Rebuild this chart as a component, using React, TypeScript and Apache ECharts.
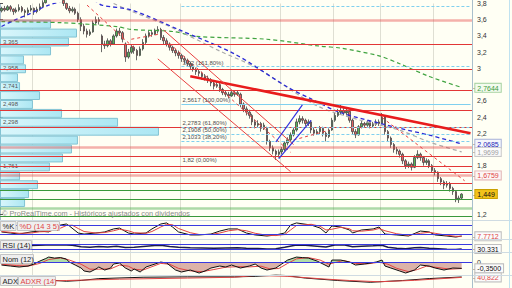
import React, { useEffect, useRef } from 'react';
import * as echarts from 'echarts';

const FONT = '"Liberation Sans", Arial, Helvetica, sans-serif';

const N = 160;
const categories: string[] = Array.from({ length: N }, (_, i) => 'D' + (i + 1));

// Daily candles [open, close, low, high]
const candles: number[][] = [
  [3.71,3.74,3.69,3.76],[3.74,3.72,3.70,3.77],[3.72,3.76,3.71,3.78],[3.76,3.73,3.70,3.78],[3.73,3.70,3.66,3.74],
  [3.70,3.72,3.68,3.75],[3.72,3.75,3.70,3.79],[3.75,3.71,3.69,3.77],[3.71,3.69,3.63,3.73],[3.69,3.72,3.67,3.75],
  [3.72,3.74,3.70,3.78],[3.74,3.70,3.66,3.75],[3.70,3.73,3.68,3.76],[3.73,3.76,3.71,3.80],[3.76,3.81,3.75,3.84],
  [3.81,3.86,3.80,3.89],[3.86,3.88,3.83,3.91],[3.88,3.85,3.82,3.90],[3.85,3.90,3.84,3.93],[3.90,3.87,3.84,3.92],
  [3.87,3.84,3.81,3.89],[3.84,3.80,3.77,3.86],[3.80,3.74,3.72,3.81],[3.74,3.71,3.68,3.77],[3.71,3.73,3.69,3.76],
  [3.73,3.68,3.66,3.75],[3.68,3.60,3.57,3.70],[3.60,3.52,3.46,3.63],[3.52,3.46,3.42,3.55],[3.46,3.42,3.38,3.49],
  [3.42,3.45,3.40,3.48],[3.45,3.56,3.44,3.59],[3.56,3.60,3.54,3.64],[3.60,3.58,3.54,3.63],[3.40,3.30,3.20,3.42],
  [3.30,3.28,3.24,3.34],[3.28,3.34,3.26,3.37],[3.34,3.30,3.27,3.36],[3.30,3.40,3.29,3.42],[3.40,3.46,3.38,3.49],
  [3.46,3.44,3.40,3.50],[3.44,3.36,3.32,3.46],[3.30,3.14,3.08,3.32],[3.14,3.20,3.12,3.24],[3.20,3.26,3.18,3.29],
  [3.26,3.22,3.18,3.28],[3.22,3.16,3.10,3.24],[3.16,3.24,3.15,3.27],[3.24,3.32,3.22,3.36],[3.32,3.40,3.30,3.43],
  [3.40,3.44,3.38,3.47],[3.44,3.42,3.39,3.46],[3.42,3.46,3.41,3.49],[3.46,3.48,3.43,3.52],[3.48,3.38,3.35,3.50],
  [3.38,3.34,3.30,3.41],[3.34,3.30,3.27,3.37],[3.30,3.26,3.22,3.32],[3.26,3.22,3.19,3.28],[3.22,3.19,3.15,3.24],
  [3.19,3.16,3.12,3.22],[3.16,3.12,3.08,3.18],[3.12,3.10,3.06,3.15],[3.10,3.06,3.02,3.12],[3.06,3.02,2.98,3.08],
  [3.02,2.99,2.96,3.05],[2.99,2.96,2.92,3.01],[2.96,2.94,2.90,2.99],[2.94,2.90,2.86,2.96],[2.90,2.88,2.85,2.93],
  [2.88,2.86,2.82,2.91],[2.86,2.82,2.78,2.88],[2.82,2.78,2.74,2.84],[2.78,2.80,2.76,2.84],[2.80,2.74,2.71,2.82],
  [2.74,2.70,2.67,2.76],[2.70,2.68,2.65,2.73],[2.68,2.66,2.63,2.71],[2.66,2.70,2.65,2.73],[2.70,2.68,2.65,2.72],
  [2.68,2.70,2.66,2.73],[2.68,2.56,2.52,2.70],[2.56,2.50,2.46,2.58],[2.50,2.46,2.42,2.53],[2.46,2.42,2.38,2.49],
  [2.42,2.34,2.30,2.44],[2.34,2.30,2.26,2.37],[2.30,2.32,2.27,2.36],[2.32,2.26,2.22,2.34],[2.26,2.30,2.24,2.33],
  [2.26,2.10,2.06,2.28],[2.10,2.02,1.98,2.12],[2.02,1.98,1.94,2.05],[1.98,1.94,1.87,2.00],[1.94,1.97,1.90,2.00],
  [1.97,2.00,1.94,2.03],[2.00,2.08,1.98,2.10],[2.08,2.12,2.05,2.15],[2.12,2.18,2.10,2.21],[2.18,2.24,2.16,2.27],
  [2.24,2.34,2.22,2.38],[2.34,2.38,2.31,2.42],[2.38,2.36,2.32,2.41],[2.36,2.32,2.29,2.38],[2.32,2.34,2.29,2.37],
  [2.34,2.24,2.20,2.36],[2.24,2.20,2.17,2.27],[2.20,2.22,2.18,2.25],[2.22,2.26,2.19,2.29],[2.26,2.20,2.16,2.28],
  [2.20,2.16,2.10,2.22],[2.16,2.24,2.14,2.26],[2.24,2.36,2.23,2.39],[2.36,2.42,2.34,2.45],[2.42,2.46,2.40,2.50],
  [2.46,2.48,2.43,2.56],[2.48,2.45,2.42,2.51],[2.45,2.47,2.42,2.52],[2.47,2.36,2.33,2.48],[2.36,2.22,2.18,2.38],
  [2.22,2.18,2.14,2.25],[2.18,2.28,2.17,2.30],[2.28,2.32,2.26,2.35],[2.32,2.30,2.27,2.34],[2.30,2.33,2.28,2.36],
  [2.33,2.29,2.26,2.35],[2.29,2.31,2.27,2.34],[2.31,2.34,2.29,2.37],[2.34,2.32,2.29,2.37],[2.32,2.40,2.31,2.45],
  [2.40,2.22,2.18,2.42],[2.22,2.14,2.10,2.24],[2.14,2.06,2.02,2.16],[2.06,2.00,1.96,2.08],[2.00,1.98,1.94,2.03],
  [1.98,1.94,1.90,2.00],[1.94,1.86,1.82,1.96],[1.86,1.80,1.76,1.88],[1.80,1.82,1.77,1.85],[1.82,1.78,1.74,1.84],
  [1.78,1.90,1.77,1.93],[1.90,1.94,1.88,1.99],[1.94,1.90,1.86,1.96],[1.90,1.84,1.80,1.92],[1.84,1.86,1.81,1.89],
  [1.86,1.80,1.77,1.88],[1.80,1.74,1.71,1.82],[1.74,1.72,1.68,1.77],[1.72,1.64,1.60,1.73],[1.64,1.60,1.56,1.66],
  [1.60,1.56,1.51,1.62],[1.56,1.58,1.53,1.61],[1.58,1.52,1.48,1.60],[1.52,1.48,1.44,1.54],[1.48,1.38,1.35,1.50],
  [1.38,1.40,1.34,1.43],[1.40,1.449,1.38,1.46],
];

// Moving averages [candle index, price]
const maBlue = [[0,3.516],[4,3.588],[10,3.68],[16,3.78],[24,3.85],[30,3.86],[34,3.78],[44,3.721],[60,3.479],[79,3.178],[97,2.768],[105,2.623],[115,2.454],[135,2.261],[145,2.177],[156,2.0685]];
const maGrey = [[38,3.80],[43,3.72],[57,3.516],[74,3.214],[87,2.997],[107,2.538],[122,2.357],[135,2.237],[145,2.092],[156,1.9699]];
const maGreen = [[0,3.576],[20,3.564],[39,3.516],[44,3.48],[58,3.455],[66,3.395],[90,3.359],[108,3.274],[115,3.25],[128,3.154],[135,3.057],[145,2.90],[156,2.7644]];

// Price axis tick labels
const priceTicks = [3.8, 3.6, 3.4, 3.2, 3.0, 2.6, 2.4, 2.2, 1.8, 1.2];

// Horizontal levels
const levelsRed = [3.298, 2.993, 2.725, 2.478, 2.279, 1.915, 1.787, 1.724, 1.58];
const levelsRedLight = [3.592, 2.026, 1.6759];
const levelsGreen = [1.501, 1.377, 1.175];
const levelsGreenLight = [1.268];

// Fibonacci levels
const fibLevels = [3.76, 3.02, 2.5617, 2.2783, 2.1908, 2.1033, 1.82];
const fibLabels = ['', '3,02 (161,80%)', '2,5617 (100,00%)', '2,2783 (61,80%)', '2,1908 (50,00%)', '2,1033 (38,20%)', '1,82 (0,00%)'];
const fibStart = 61;

// Drawn trendlines [[index, price], [index, price]]
const trendThick = [[64, 2.904], [159, 2.2007]];
const channelSolid = [[[55, 3.472], [99, 2.061]], [[53, 3.117], [98, 1.726]]];
const channelDashed = [[[57, 3.306], [98, 1.965]], [[29, 3.78], [45, 3.25]], [[129, 2.394], [157, 1.614]], [[99, 2.116], [111, 2.237]], [[44, 3.359], [53, 3.419]]];
const blueChannel = [[[93, 2.092], [102, 2.55]], [[94, 1.887], [105, 2.358]]];

// Volume-by-price profile
const profileEdges = [3.60,3.49,3.38,3.27,3.16,3.05,2.94,2.83,2.72,2.61,2.50,2.39,2.28,2.17,2.06,1.95,1.84,1.73,1.62,1.51,1.40,1.29];
const profileVolume = [31.8,48.3,43.2,31.8,14.6,15.9,10.8,12.1,24.8,20.3,38.8,74.4,100.4,48.9,45.1,39.4,31.1,12.1,23.5,17.8,15.3];
const profileLabels = ['', '', '3,365', '', '', '2,958', '', '2,741', '', '2,498', '', '2,298', '', '', '', '', '1,761', '', '', '', ''];

// Last-value tags
const tagTexts = { green: '2,7644', blue: '2,0685', grey: '1,9699', level: '1,6759', last: '1,449', d: '7,7712', rsi: '30,331', mom: '-0,3500', adxr: '40,822' };
const tagValues = { green: 2.7644, blue: 2.0685, grey: 1.9699, level: 1.6759, last: 1.449, d: 7.7712, rsi: 30.331, mom: -0.35, adxr: 40.822 };

// Stochastic
const kLine = [[0,37],[3,30],[6,23],[10,37],[13,43],[16,37],[20,83],[22,90],[23,77],[26,30],[28,23],[32,30],[35,37],[38,57],[40,63],[43,30],[45,23],[49,30],[51,57],[54,90],[56,97],[58,70],[60,37],[64,17],[67,17],[71,23],[74,43],[77,57],[80,57],[83,30],[86,17],[90,10],[93,17],[96,30],[98,83],[100,97],[105,83],[108,63],[110,30],[112,77],[115,70],[118,50],[119,30],[122,50],[126,57],[128,70],[130,23],[134,17],[138,10],[142,43],[145,37],[147,17],[151,10],[154,3],[156,10]];
const dLine = [[0,40],[3,35],[6,28],[10,30],[13,38],[16,40],[20,62],[22,80],[24,82],[26,60],[28,40],[32,30],[35,33],[38,45],[40,55],[43,45],[45,32],[49,28],[51,40],[54,70],[56,88],[58,85],[60,60],[64,32],[67,20],[71,20],[74,30],[77,45],[80,52],[83,45],[86,28],[90,15],[93,13],[96,20],[98,50],[100,80],[105,88],[108,75],[110,50],[112,55],[115,68],[118,58],[119,45],[122,42],[126,50],[128,60],[130,45],[134,25],[138,15],[142,28],[145,35],[147,28],[151,15],[154,8],[156,7.7712]];
// RSI
const rsiLine = [[0,55],[5,52],[10,58],[15,62],[20,64],[24,60],[27,48],[30,44],[33,50],[36,46],[39,52],[42,42],[45,44],[48,50],[52,58],[54,60],[57,50],[60,44],[64,40],[68,38],[72,36],[76,38],[80,40],[83,36],[87,34],[90,30],[93,32],[96,44],[100,62],[103,60],[107,52],[110,46],[113,62],[116,64],[119,48],[122,52],[126,56],[129,60],[131,44],[134,36],[137,32],[140,40],[142,42],[145,36],[148,32],[151,28],[154,27],[156,30.331]];
// Momentum
const momLine = [[0,-0.15],[3,-0.21],[6,-0.27],[9,-0.21],[11,-0.09],[13,0.09],[15,0.24],[16,0.33],[18,0.27],[20,0.30],[22,0.21],[23,0.03],[25,-0.15],[27,-0.33],[28,-0.51],[30,-0.57],[32,-0.39],[33,-0.27],[35,-0.45],[37,-0.33],[38,-0.09],[40,-0.03],[42,-0.33],[44,-0.51],[45,-0.39],[47,-0.57],[49,-0.27],[51,-0.15],[54,0.03],[56,-0.03],[59,-0.45],[61,-0.57],[64,-0.45],[67,-0.63],[69,-0.51],[71,-0.33],[74,-0.21],[76,-0.27],[78,-0.15],[81,-0.33],[84,-0.21],[86,-0.09],[88,-0.33],[90,-0.45],[93,-0.33],[95,-0.09],[97,0.15],[100,0.33],[102,0.30],[104,0.27],[107,0.09],[109,-0.09],[111,-0.27],[112,0.15],[115,0.15],[118,0.03],[120,-0.15],[123,-0.09],[127,0.03],[129,0.15],[130,-0.21],[132,-0.33],[135,-0.51],[137,-0.63],[140,-0.45],[142,-0.15],[145,-0.21],[147,-0.33],[150,-0.45],[153,-0.33],[156,-0.35]];
const momSignal = [[0,-0.10],[5,-0.18],[9,-0.22],[13,-0.05],[16,0.18],[20,0.28],[23,0.15],[27,-0.10],[30,-0.40],[33,-0.40],[37,-0.38],[40,-0.15],[43,-0.22],[45,-0.40],[48,-0.45],[51,-0.25],[54,-0.05],[57,-0.10],[60,-0.35],[64,-0.50],[68,-0.55],[72,-0.42],[76,-0.28],[80,-0.25],[84,-0.26],[88,-0.22],[91,-0.38],[94,-0.36],[97,-0.05],[100,0.22],[104,0.30],[108,0.15],[111,-0.10],[113,0.00],[116,0.12],[120,-0.05],[124,-0.08],[128,0.02],[131,-0.10],[134,-0.35],[138,-0.55],[141,-0.42],[144,-0.22],[148,-0.30],[152,-0.40],[156,-0.36]];
// ADX / ADXR
const adxLine = [[0,24],[10,31],[17,30],[22,26],[27,29],[33,36],[48,41.4],[63,42.8],[79,42.8],[86,44.8],[93,49.4],[96,48.2],[103,38.2],[114,28.8],[125,22],[136,28.8],[145,36.2],[156,42.4]];
const adxrLine = [[0,22],[22,28.8],[40,34],[63,38.2],[79,41.4],[86,48.2],[97,44.8],[109,34.8],[118,28.8],[128,24],[140,29.4],[156,40.822]];

// vertical grid positions (candle index)
const vGrid = [11, 27, 44, 61, 78, 95, 113, 129, 147];

const pts = (arr: number[][]) => arr.map(([i, v]) => [categories[i], v]);
const fmtComma = (v: number) => String(Math.round(v * 10) / 10).replace('.', ',');

const RED = '#e23636';
const CLEAR = 'rgba(0,0,0,0)';

const tagLabel = (text: string, color: string, bg: string, border: string) => ({
  show: true,
  position: 'end',
  distance: 1,
  opacity: 1,
  formatter: '{t|-}{b|' + text + '}',
  rich: {
    t: { color: '#555', fontSize: 7, fontFamily: FONT },
    b: { color, fontSize: 7, fontFamily: FONT, backgroundColor: bg, borderColor: border, borderWidth: 1, padding: [1, 2, 0, 2] },
  },
});
const tagItem = (v: number, text: string, color: string, bg: string, border: string) => ({
  yAxis: v,
  lineStyle: { color: CLEAR, width: 0.01, type: 'solid' },
  label: tagLabel(text, color, bg, border),
});
const seg = (p: number[][], lineStyle: any) => [
  { coord: [categories[p[0][0]], p[0][1]], lineStyle },
  { coord: [categories[p[1][0]], p[1][1]] },
];

export default function App() {
  const ref = useRef<HTMLDivElement>(null);

  useEffect(() => {
    if (!ref.current) return;
    const chart = echarts.init(ref.current, null, { renderer: 'svg' });

    const catAxis = (gridIndex: number) => ({
      type: 'category',
      gridIndex,
      data: categories,
      boundaryGap: true,
      axisLine: { show: false },
      axisTick: { show: false },
      axisLabel: { show: false },
      splitLine: { show: true, interval: (idx: number) => vGrid.includes(idx), lineStyle: { color: '#dfdfd3', width: 1 } },
    });
    const panelY = (gridIndex: number, min: number, max: number) => ({
      type: 'value',
      gridIndex,
      position: 'right',
      min,
      max,
      axisLine: { show: true, lineStyle: { color: '#a9bfcc' } },
      axisTick: { show: false },
      axisLabel: { show: false },
      splitLine: { show: false },
    });

    const mainLines: any[] = [
      ...levelsRedLight.map((v) => ({ yAxis: v, lineStyle: { color: 'rgba(228,70,70,0.42)', width: 2.5, type: 'solid' } })),
      ...levelsGreenLight.map((v) => ({ yAxis: v, lineStyle: { color: 'rgba(70,170,70,0.45)', width: 2.5, type: 'solid' } })),
      ...levelsRed.map((v) => ({ yAxis: v, lineStyle: { color: RED, width: 1, type: 'solid' } })),
      ...levelsGreen.map((v) => ({ yAxis: v, lineStyle: { color: '#3a983a', width: 1, type: 'solid' } })),
      ...fibLevels.map((v, k) => [
        {
          coord: [categories[fibStart], v],
          lineStyle: { color: k === 6 ? CLEAR : '#7fd0ef', width: 1.2, type: k === 2 || k === 6 ? 'solid' : [3, 2] },
          label: fibLabels[k]
            ? { show: true, position: 'insideStartTop', distance: 1, formatter: fibLabels[k], color: '#505050', fontSize: 6, fontFamily: FONT }
            : { show: false },
        },
        { coord: [categories[N - 1], v] },
      ]),
      seg(trendThick, { color: '#e81c1c', width: 2.5, type: 'solid' }),
      ...channelSolid.map((p) => seg(p, { color: '#e84040', width: 1, type: 'solid' })),
      ...channelDashed.map((p) => seg(p, { color: '#e84040', width: 1, type: [3, 3] })),
      ...blueChannel.map((p) => seg(p, { color: '#3030e0', width: 1.2, type: 'solid' })),
      tagItem(tagValues.green, tagTexts.green, '#3a9a3a', '#f3fbef', '#a6d2a0'),
      tagItem(tagValues.blue, tagTexts.blue, '#2626b8', '#f5f6fc', '#aab4d8'),
      tagItem(tagValues.grey, tagTexts.grey, '#a0a0a0', '#fbfbfb', '#c8c8c8'),
      tagItem(tagValues.level, tagTexts.level, '#e04444', '#fdf6f5', '#e2b4b4'),
      tagItem(tagValues.last, tagTexts.last, '#111111', '#f3c21a', '#c9a000'),
    ];

    const option: any = {
      animation: false,
      backgroundColor: '#fffff4',
      textStyle: { fontFamily: FONT },
      grid: [
        { left: 0, right: 40, top: -1.58, height: 232.12 },
        { left: 0, right: 40, top: 222.5, height: 15 },
        { left: 0, right: 40, top: 240.25, height: 12.5 },
        { left: 0, right: 40, top: 253, height: 22 },
        { left: 0, right: 40, top: 272.4, height: 30 },
      ],
      xAxis: [
        catAxis(0),
        { type: 'value', gridIndex: 0, min: 0, max: 300, show: false },
        catAxis(1),
        catAxis(2),
        catAxis(3),
        catAxis(4),
      ],
      yAxis: [
        {
          type: 'value',
          gridIndex: 0,
          position: 'right',
          min: 1.0,
          max: 3.8,
          interval: 0.2,
          axisLine: { show: true, lineStyle: { color: '#a9bfcc' } },
          axisTick: { show: true, length: 3, lineStyle: { color: '#555' } },
          axisLabel: {
            margin: 5,
            color: '#333',
            fontSize: 7,
            fontFamily: FONT,
            formatter: (v: number) => (priceTicks.some((t) => Math.abs(t - v) < 1e-6) ? fmtComma(v) : ''),
          },
          splitLine: { show: false },
        },
        panelY(1, 0, 100),
        panelY(2, 0, 100),
        {
          ...panelY(3, -0.75, 0.575),
          interval: 0.25,
          axisLabel: { show: true, margin: 5, color: '#333', fontSize: 7, fontFamily: FONT, formatter: (v: number) => (Math.abs(v) < 1e-9 ? '0' : '') },
        },
        panelY(4, 0, 60),
      ],
      visualMap: [
        {
          type: 'piecewise',
          show: false,
          seriesIndex: 8,
          dimension: 1,
          pieces: [
            { gte: -5, lt: 0, color: '#d8aaa0' },
            { gte: 0, lte: 5, color: '#a8d9a0' },
          ],
        },
      ],
      series: [
        {
          type: 'custom',
          xAxisIndex: 1,
          yAxisIndex: 0,
          z: 1,
          silent: true,
          encode: { x: 0, y: [1, 2] },
          data: profileVolume.map((v, k) => [v, profileEdges[k + 1], profileEdges[k]]),
          renderItem: (params: any, api: any) => {
            const v = api.value(0);
            const lo = api.value(1);
            const hi = api.value(2);
            const a = api.coord([0, hi]);
            const b = api.coord([v, lo]);
            const children: any[] = [
              {
                type: 'rect',
                shape: { x: a[0] + 0.5, y: a[1] + 0.5, width: b[0] - a[0], height: b[1] - a[1] - 1 },
                style: {
                  fill: new echarts.graphic.LinearGradient(0, 0, 1, 0, [
                    { offset: 0, color: '#d9f6fb' },
                    { offset: 1, color: '#ace7f3' },
                  ]),
                  stroke: '#82c3d3',
                  lineWidth: 1,
                },
              },
            ];
            const label = profileLabels[params.dataIndex];
            if (label) {
              children.push({
                type: 'text',
                x: a[0] + 3,
                y: a[1] + 4,
                style: { text: label, fill: '#555', font: '6px ' + FONT, verticalAlign: 'middle' },
              });
            }
            return { type: 'group', children };
          },
        },
        {
          type: 'candlestick',
          xAxisIndex: 0,
          yAxisIndex: 0,
          z: 3,
          barWidth: '68%',
          data: candles,
          itemStyle: { color: '#56b656', color0: '#e26262', borderColor: '#444', borderColor0: '#444', borderWidth: 0.8 },
          markLine: {
            silent: true,
            animation: false,
            symbol: ['none', 'none'],
            label: { show: false },
            emphasis: { disabled: true },
            data: mainLines,
          },
        },
        { type: 'line', xAxisIndex: 0, yAxisIndex: 0, z: 4, data: pts(maGreen), symbol: 'none', smooth: 0.3, silent: true, lineStyle: { color: '#3fa33f', width: 1.2, type: [4, 3] } },
        { type: 'line', xAxisIndex: 0, yAxisIndex: 0, z: 4, data: pts(maGrey), symbol: 'none', smooth: 0.3, silent: true, lineStyle: { color: '#aaaaaa', width: 1.2, type: [4, 3] } },
        { type: 'line', xAxisIndex: 0, yAxisIndex: 0, z: 4, data: pts(maBlue), symbol: 'none', smooth: 0.3, silent: true, lineStyle: { color: '#2b2bd6', width: 1.3, type: [4, 3] } },
        // %K
        {
          type: 'line', xAxisIndex: 2, yAxisIndex: 1, data: pts(kLine), symbol: 'none', silent: true,
          lineStyle: { color: '#111', width: 1 },
          markLine: {
            silent: true, symbol: ['none', 'none'], label: { show: false },
            data: [{ yAxis: 80 }, { yAxis: 20 }],
            lineStyle: { color: '#3a3ae0', width: 1, type: 'solid' },
          },
        },
        {
          type: 'line', xAxisIndex: 2, yAxisIndex: 1, data: pts(dLine), symbol: 'none', silent: true,
          lineStyle: { color: '#e04444', width: 1 },
          markLine: { silent: true, symbol: ['none', 'none'], label: { show: false }, data: [tagItem(tagValues.d, tagTexts.d, '#e04444', '#fbfbfb', '#bdbdbd')] },
        },
        // RSI
        {
          type: 'line', xAxisIndex: 3, yAxisIndex: 2, data: pts(rsiLine), symbol: 'none', silent: true, z: 3,
          lineStyle: { color: '#1b1b4a', width: 1.4 },
          markLine: {
            silent: true, symbol: ['none', 'none'], label: { show: false },
            lineStyle: { color: '#3a3ae0', width: 1, type: 'solid' },
            data: [{ yAxis: 70 }, { yAxis: 30 }, tagItem(tagValues.rsi, tagTexts.rsi, '#111', '#fbfbfb', '#bdbdbd')],
          },
        },
        // Momentum area
        {
          type: 'line', xAxisIndex: 4, yAxisIndex: 3, data: pts(momLine), symbol: 'none', silent: true,
          lineStyle: { width: 0 },
          areaStyle: { opacity: 0.9 },
        },
        {
          type: 'line', xAxisIndex: 4, yAxisIndex: 3, data: pts(momSignal), symbol: 'none', silent: true,
          lineStyle: { color: '#e04444', width: 1 },
        },
        {
          type: 'line', xAxisIndex: 4, yAxisIndex: 3, data: pts(momLine), symbol: 'none', silent: true, z: 3,
          lineStyle: { color: '#111', width: 1 },
          markLine: {
            silent: true, symbol: ['none', 'none'], label: { show: false },
            lineStyle: { color: '#3a3ae0', width: 1, type: 'solid' },
            data: [{ yAxis: 0 }, tagItem(tagValues.mom, tagTexts.mom, '#111', '#fbfbfb', '#bdbdbd')],
          },
        },
        // ADX
        {
          type: 'line', xAxisIndex: 5, yAxisIndex: 4, data: pts(adxLine), symbol: 'none', silent: true,
          lineStyle: { color: '#111', width: 1 },
        },
        {
          type: 'line', xAxisIndex: 5, yAxisIndex: 4, data: pts(adxrLine), symbol: 'none', silent: true,
          lineStyle: { color: '#e04444', width: 1 },
          markLine: { silent: true, symbol: ['none', 'none'], label: { show: false }, data: [tagItem(tagValues.adxr, tagTexts.adxr, '#e04444', '#fbfbfb', '#bdbdbd')] },
        },
      ],
      graphic: [
        ...[220.5, 239.5, 252.5, 275.5].map((y) => ({
          type: 'line', silent: true, z: 10,
          shape: { x1: 0, y1: y, x2: 512, y2: y },
          style: { stroke: '#cfdbe2', lineWidth: 1 },
        })),
        { type: 'line', silent: true, z: 10, shape: { x1: 472.5, y1: 0, x2: 472.5, y2: 288 }, style: { stroke: '#a9bfcc', lineWidth: 1 } },
        { type: 'line', silent: true, z: 10, shape: { x1: 509.5, y1: 0, x2: 509.5, y2: 288 }, style: { stroke: '#c0e2f0', lineWidth: 1 } },
        {
          type: 'text', silent: true, z: 10, x: 2, y: 213,
          style: { text: '\u00a9 ProRealTime.com - Hist\u00f3ricos ajustados con dividendos', fill: '#8a8a8a', font: '7.3px ' + FONT, verticalAlign: 'middle' },
        },
        ...[
          { x: 0.5, y: 221.5, w: 15.5, h: 9, text: '%K', color: '#222' },
          { x: 17.5, y: 221.5, w: 42, h: 9, text: '%D (14 3 5)', color: '#e04444' },
          { x: 0.5, y: 240.5, w: 31, h: 8.5, text: 'RSI (14)', color: '#222' },
          { x: 0.5, y: 254.5, w: 33, h: 9, text: 'Nom (12)', color: '#222' },
          { x: 0.5, y: 276.5, w: 17, h: 9, text: 'ADX', color: '#222' },
          { x: 18.5, y: 276.5, w: 37, h: 9, text: 'ADXR (14)', color: '#e04444' },
        ].flatMap((b) => [
          { type: 'rect', silent: true, z: 11, shape: { x: b.x, y: b.y, width: b.w, height: b.h }, style: { fill: '#efefef', stroke: '#c4c4c4', lineWidth: 1 } },
          { type: 'text', silent: true, z: 12, x: b.x + 2, y: b.y + b.h / 2 + 0.5, style: { text: b.text, fill: b.color, font: '7.5px ' + FONT, verticalAlign: 'middle' } },
        ]),
      ],
    };

    chart.setOption(option);
    return () => chart.dispose();
  }, []);

  return (
    <div
      ref={ref}
      style={{ position: 'fixed', left: 0, top: 0, width: 512, height: 288, background: '#fffff4' }}
    />
  );
}
